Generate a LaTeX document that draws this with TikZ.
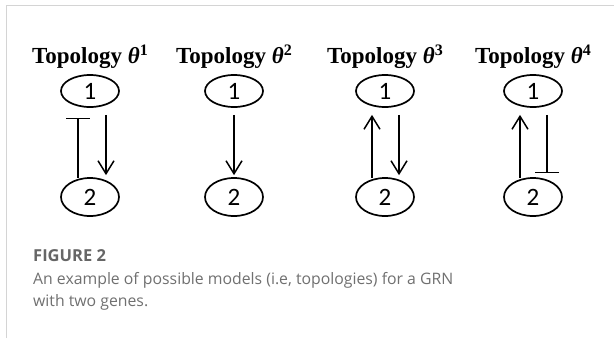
\documentclass[tikz,border=0pt]{standalone}
\usepackage{fontspec}
\usetikzlibrary{arrows.meta,shapes.geometric}
\newfontfamily\titlefont{Liberation Serif}
\newfontfamily\numfont{Carlito}
\newfontfamily\capfont{Open Sans}
\definecolor{capgray}{HTML}{707070}
\definecolor{figgray}{HTML}{666666}
\definecolor{framegray}{HTML}{D4D4D4}
\tikzset{
  gene/.style={draw, ellipse, line width=1.7pt, minimum width=58pt, inner sep=0pt, font=\numfont\fontsize{25}{25}\selectfont},
  upper/.style={gene, minimum height=32pt},
  lower/.style={gene, minimum height=38pt},
  ttl/.style={font=\titlefont\bfseries\fontsize{23}{23}\selectfont, anchor=base, inner sep=0pt},
  act/.style={line width=1.5pt, -{Straight Barb[length=13pt,width=16pt,line width=1.5pt]}},
  inh/.style={line width=1.5pt, -{Bar[width=24pt,line width=1.5pt]}},
  captxt/.style={font=\capfont\fontsize{15.8}{15.8}\selectfont, text=capgray, anchor=base west, inner sep=0pt},
  figlbl/.style={font=\capfont\bfseries\fontsize{16.5}{16.5}\selectfont, text=figgray, anchor=base west, inner sep=0pt}
}
\newcommand{\topo}[1]{Topology {\itshape θ}\raisebox{0.34em}{\fontsize{16}{16}\selectfont #1}}
\begin{document}
\begin{tikzpicture}[x=1pt,y=-1pt]
\useasboundingbox (0,0) rectangle (614,338);
\fill[white] (0,0) rectangle (614,338);
\draw[framegray, line width=1.5pt] (6.5,338) -- (6.5,5.5) -- (614,5.5);
% titles
\node[ttl] (t1) at (90,63) {\topo{1}};
\node[ttl] (t2) at (234,63) {\topo{2}};
\node[ttl] (t3) at (385,63) {\topo{3}};
\node[ttl] (t4) at (533,63) {\topo{4}};
% genes
\node[upper] (a1) at (90,91) {1};
\node[lower] (b1) at (90,197) {2};
\node[upper] (a2) at (234,91) {1};
\node[lower] (b2) at (234,197) {2};
\node[upper] (a3) at (385,91) {1};
\node[lower] (b3) at (385,197) {2};
\node[upper] (a4) at (533,91) {1};
\node[lower] (b4) at (533,197) {2};
% topology 1
\draw[inh] ([xshift=-12pt,yshift=-1pt]b1.north) -- ([xshift=-12pt,yshift=-10pt]a1.south);
\draw[act] ([xshift=16pt,yshift=-7pt]a1.south) -- ([xshift=16pt,yshift=2pt]b1.north);
% topology 2
\draw[act] ([yshift=-7pt]a2.south) -- ([yshift=2pt]b2.north);
% topology 3
\draw[act] ([xshift=-13pt,yshift=-1pt]b3.north) -- ([xshift=-13pt,yshift=-7pt]a3.south);
\draw[act] ([xshift=14pt,yshift=-7pt]a3.south) -- ([xshift=14pt,yshift=2pt]b3.north);
% topology 4
\draw[act] ([xshift=-13pt,yshift=-1pt]b4.north) -- ([xshift=-13pt,yshift=-7pt]a4.south);
\draw[inh] ([xshift=14pt,yshift=-7pt]a4.south) -- ([xshift=14pt,yshift=4pt]b4.north);
% caption
\node[figlbl] (fig) at (33,261) {FIGURE 2};
\node[captxt] (txt1) at (33,284) {An example of possible models (i.e, topologies) for a GRN};
\node[captxt] (txt2) at (33,306) {with two genes.};
\end{tikzpicture}
\end{document}
